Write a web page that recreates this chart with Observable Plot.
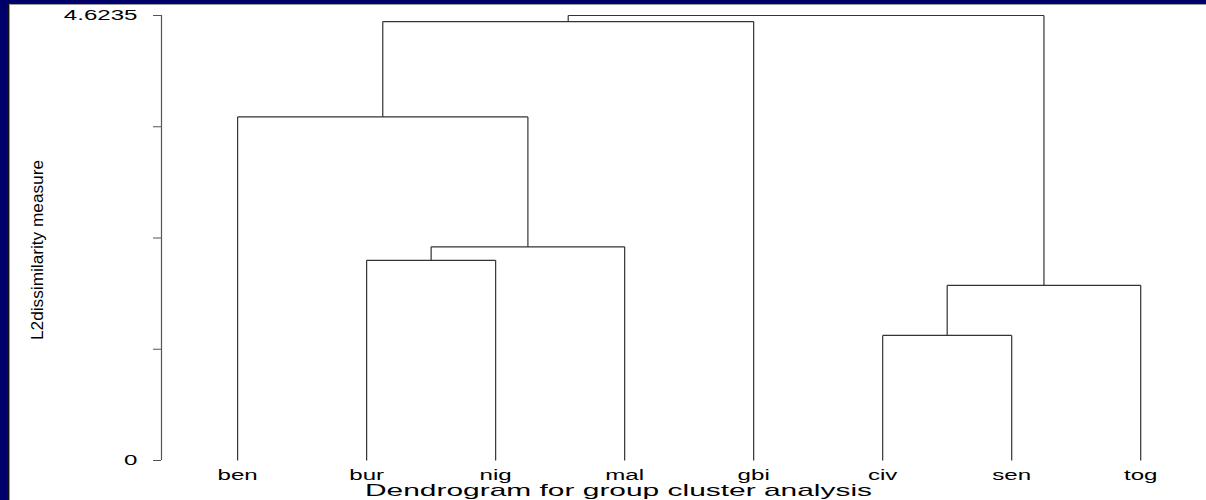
<!DOCTYPE html>
<html>
<head>
<meta charset="utf-8">
<script src="https://cdn.jsdelivr.net/npm/d3@7"></script>
<script src="https://cdn.jsdelivr.net/npm/@observablehq/plot@0.6"></script>
<style>
  html, body { margin: 0; padding: 0; width: 1206px; height: 500px; overflow: hidden; background: #00006a; font-family: "Liberation Sans", Arial, sans-serif; }
  #edge { position: absolute; left: 7px; top: 3px; right: 0; bottom: 0; background: #111; }
  #paper { position: absolute; left: 9px; top: 4px; right: 0; bottom: 0; background: #fff; border-left: 1px solid #999; border-top: 1px solid #999; }
  #chart { position: absolute; left: 0; top: 0; }
  #title { position: absolute; top: 482px; left: 0; width: 1206px; height: 18px; font-size: 17px; line-height: 17px; color: #000; white-space: nowrap; }
  #title span { display: inline-block; position: absolute; transform-origin: 0 0; }
</style>
</head>
<body>
<div id="edge"></div>
<div id="paper"></div>
<div id="chart"></div>
<div id="title"><span>Dendrogram for group cluster analysis</span></div>
<script>
// ---- data ----
const leaves = ["ben", "bur", "nig", "mal", "gbi", "civ", "sen", "tog"];
// merge steps: left child, right child, fusion height (clusters named c1..c7 in order)
const mergeLeft   = ["civ", "c1",  "bur", "c3",  "ben", "c5",  "c6"];
const mergeRight  = ["sen", "tog", "nig", "mal", "c4",  "gbi", "c2"];
const mergeHeight = [1.30, 1.82, 2.08, 2.22, 3.57, 4.56, 4.6235];
const yTickValues = [0, 1.1559, 2.3118, 3.4676, 4.6235];
const yTickLabels = ["0", "", "", "", "4.6235"];
const yLabel = "L2dissimilarity measure";
const xDomain = [-0.59, 7.51];
const yDomain = [0, 4.6235];

// ---- build dendrogram segments ----
const pos = {}, hgt = {};
leaves.forEach((l, i) => { pos[l] = i; hgt[l] = 0; });
const segs = [];
mergeLeft.forEach((a, k) => {
  const b = mergeRight[k], H = mergeHeight[k];
  segs.push({x1: pos[a], x2: pos[a], y1: hgt[a], y2: H});
  segs.push({x1: pos[b], x2: pos[b], y1: hgt[b], y2: H});
  segs.push({x1: pos[a], x2: pos[b], y1: H, y2: H});
  const id = "c" + (k + 1);
  pos[id] = (pos[a] + pos[b]) / 2;
  hgt[id] = H;
});

const chart = Plot.plot({
  width: 1206,
  height: 500,
  marginLeft: 161,
  marginRight: 0,
  marginTop: 15,
  marginBottom: 40,
  style: {background: "transparent", fontFamily: "Liberation Sans, Arial, sans-serif", color: "#000"},
  x: {domain: xDomain, axis: null},
  y: {domain: yDomain, axis: null},
  marks: [
    Plot.ruleX([xDomain[0]], {y1: yDomain[0], y2: yDomain[1], stroke: "#555", strokeWidth: 1.2}),
    Plot.axisY({ticks: yTickValues, tickFormat: d => yTickLabels[yTickValues.indexOf(d)], tickSize: 8, tickPadding: 16, fontSize: 14, stroke: "#555", fill: "#000", label: null}),
    Plot.axisX({ticks: leaves.map((_, i) => i), tickFormat: i => leaves[i], tickSize: 0, tickPadding: 10, fontSize: 14, fill: "#000", label: null}),
    Plot.link(segs, {x1: "x1", y1: "y1", x2: "x2", y2: "y2", stroke: "#333", strokeWidth: 1.2}),
    Plot.text([yLabel], {frameAnchor: "left", textAnchor: "middle", rotate: -90, dx: -124, dy: 12, fontSize: 16, fill: "#000"})
  ]
});
document.getElementById("chart").appendChild(chart);

// horizontally stretched lettering, as in the original
d3.select(chart).selectAll("g[aria-label='x-axis tick label'] text, g[aria-label='y-axis tick label'] text").each(function() {
  const len = this.getComputedTextLength();
  if (len > 0) { this.setAttribute("textLength", len * 1.72); this.setAttribute("lengthAdjust", "spacingAndGlyphs"); }
});
d3.select(chart).selectAll("g[aria-label='text'] text").each(function() {
  this.setAttribute("textLength", 180); this.setAttribute("lengthAdjust", "spacingAndGlyphs");
});
const span = document.querySelector("#title span");
const w = span.getBoundingClientRect().width;
const target = 507, center = 618;
span.style.transform = `scaleX(${target / w})`;
span.style.left = (center - target / 2) + "px";
</script>
</body>
</html>
